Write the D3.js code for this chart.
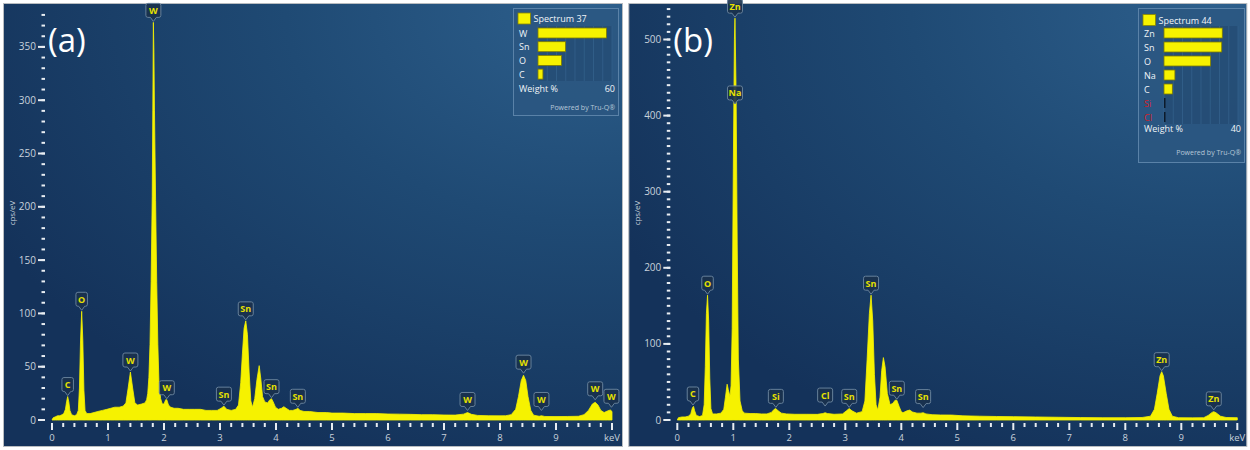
<!DOCTYPE html>
<html><head><meta charset="utf-8">
<script src="https://cdn.jsdelivr.net/npm/d3@7"></script>
<style>
html,body{margin:0;padding:0;background:#fff;}
svg{display:block;font-family:"Open Sans","Noto Sans",sans-serif;}
</style></head>
<body><svg id="c" width="1250" height="450"></svg>
<script>
// ---------- DATA ----------
const panelLetters = ["(a)", "(b)"];
const spectrumTitles = ["Spectrum 37", "Spectrum 44"];
const xTickLabels = ["0","1","2","3","4","5","6","7","8","9","keV"];
const yUnitLabel = "cps/eV";

// spectrum (a): [keV, cps/eV]
const specA = [
[0.00,0],[0.02,2],[0.06,3],[0.10,4],[0.14,4],[0.18,5],[0.21,6],[0.24,10],[0.26,17],[0.28,22],[0.30,17],[0.32,9],[0.35,5],
[0.40,4],[0.44,5],[0.47,9],[0.49,30],[0.51,75],[0.53,102],[0.55,75],[0.57,28],[0.59,9],[0.62,6],[0.68,6],[0.75,7],[0.82,8],
[0.90,9],[0.98,10],[1.05,11],[1.12,12],[1.20,12],[1.27,13],[1.32,16],[1.36,30],[1.40,45],[1.44,30],[1.48,16],[1.53,14],
[1.60,15],[1.66,16],[1.69,19],[1.71,25],[1.73,40],[1.75,71],[1.77,130],[1.79,210],[1.80,290],[1.81,373],[1.82,345],
[1.83,290],[1.85,206],[1.87,129],[1.89,71],[1.91,35],[1.94,20],[1.97,15],[2.00,15],[2.03,19],[2.05,19],[2.08,14],[2.12,12],
[2.18,11],[2.25,11],[2.35,10],[2.45,10],[2.55,10],[2.65,10],[2.75,9],[2.85,9],[2.95,9],[3.02,11],[3.07,13],[3.12,10],
[3.20,9],[3.28,10],[3.33,14],[3.37,35],[3.40,62],[3.43,86],[3.46,93],[3.49,80],[3.52,45],[3.55,18],[3.58,12],[3.62,20],
[3.66,38],[3.70,51],[3.73,38],[3.76,22],[3.80,17],[3.85,16],[3.89,19],[3.92,20],[3.95,17],[3.99,12],[4.04,10],[4.10,11],
[4.14,12.5],[4.18,11],[4.24,9],[4.30,9],[4.36,10],[4.39,11],[4.43,9],[4.50,8],[4.60,8],[4.75,7],[4.90,7],[5.0,6.5],[5.2,6.5],
[5.4,6],[5.6,6],[5.8,6],[6.0,5.6],[6.2,5.5],[6.4,5.3],[6.6,5],[6.8,5],[7.0,4.7],[7.2,4.6],[7.35,5.5],[7.42,7],[7.49,5.3],
[7.6,4.3],[7.8,4],[8.0,3.9],[8.1,4],[8.2,5],[8.28,10],[8.33,22],[8.38,37],[8.42,42],[8.46,37],[8.50,22],[8.55,9],[8.60,4.5],
[8.7,3.5],[8.74,4],[8.8,3.3],[9.0,3.2],[9.2,3.3],[9.4,3.5],[9.5,5],[9.58,9],[9.65,15],[9.70,16.6],[9.75,14],[9.80,9],
[9.86,7],[9.92,8.5],[9.97,9.4],[10.0,8]
];
// spectrum (b)
const specB = [
[0.00,0],[0.02,3],[0.08,4],[0.14,4],[0.20,5],[0.24,8],[0.27,16],[0.29,18],[0.31,12],[0.34,6],[0.40,4.5],[0.45,6],[0.48,20],
[0.50,70],[0.52,140],[0.54,164],[0.56,130],[0.58,55],[0.60,15],[0.63,8],[0.70,8],[0.78,9],[0.83,14],[0.86,30],[0.89,47],
[0.91,40],[0.94,31],[0.96,45],[0.98,120],[1.00,330],[1.02,500],[1.03,528],[1.05,430],[1.07,230],[1.09,80],[1.12,25],
[1.16,12],[1.2,9],[1.3,8.5],[1.4,8.5],[1.5,8],[1.6,8],[1.68,10],[1.73,14],[1.76,15],[1.80,12],[1.86,9],[1.95,8],[2.1,7.5],
[2.3,7.5],[2.5,7.4],[2.6,8.5],[2.64,9.6],[2.68,8.5],[2.8,7.5],[2.95,8],[3.02,12],[3.07,15],[3.12,12],[3.20,9],[3.30,11],
[3.35,25],[3.39,80],[3.43,140],[3.46,164],[3.49,130],[3.52,60],[3.55,20],[3.58,13],[3.62,30],[3.65,65],[3.68,82],[3.71,70],
[3.75,35],[3.80,20],[3.85,22],[3.89,26],[3.92,26],[3.96,18],[4.00,11],[4.03,9.6],[4.10,12],[4.15,13],[4.20,10.5],[4.28,9],
[4.35,9],[4.39,9.6],[4.44,8],[4.55,7],[4.7,6.6],[4.9,6.5],[5.1,5.5],[5.4,5],[5.7,4.6],[6.0,4.4],[6.4,4],[6.8,3.6],[7.2,3.2],
[7.6,3],[8.0,3],[8.3,3.3],[8.45,5],[8.52,14],[8.57,35],[8.62,58],[8.65,63.5],[8.68,58],[8.73,35],[8.78,14],[8.84,5],[8.95,3],
[9.2,2.8],[9.4,3],[9.48,6],[9.55,10],[9.58,11],[9.62,9.5],[9.70,5],[9.80,3.3],[10.0,3]
];
// peak labels: [element, keV, cps/eV at pointer tip]
const peaksA = [["C",0.28,22],["O",0.53,102],["W",1.40,45],["W",1.81,373],["W",2.05,19],["Sn",3.07,13],["Sn",3.46,93],
["Sn",3.92,20],["Sn",4.39,11],["W",7.42,8],["W",8.42,43],["W",8.74,8],["W",9.70,18],["W",9.99,11]];
const peaksB = [["C",0.28,18.4],["O",0.54,164],["Zn",1.03,528],["Na",1.03,414],["Si",1.76,15.3],["Cl",2.64,17],
["Sn",3.07,15.3],["Sn",3.46,164],["Sn",3.92,26],["Sn",4.39,15],["Zn",8.65,63.5],["Zn",9.58,12]];
// y ticks
const yMaxA = 380, yMajorA = [0,50,100,150,200,250,300,350];
const yMaxB = 540, yMajorB = [0,100,200,300,400,500];
// legend (weight %)
const legElemA = ["W","Sn","O","C"];
const legWtA = [55.5,22.3,19,4];
const legElemB = ["Zn","Sn","O","Na","C","Si","Cl"];
const legWtB = [31.5,31.2,25.2,5.9,4.5,0.2,0.2];
const legMaxA = 60, legMaxB = 40;
const legRedB = ["Si","Cl"];

// ---------- DRAW ----------
const svg = d3.select("#c");
const defs = svg.append("defs");
const rg = defs.append("radialGradient").attr("id","bg").attr("cx","95%").attr("cy","0%").attr("r","110%")
  .attr("gradientUnits","objectBoundingBox");
rg.append("stop").attr("offset","0%").attr("stop-color","#2d5f8c");
rg.append("stop").attr("offset","45%").attr("stop-color","#1f4a74");
rg.append("stop").attr("offset","100%").attr("stop-color","#14325a");

const YEL = "#f6f200";

function panel(cfg){
  const g = svg.append("g");
  const x = d3.scaleLinear().domain([0,10]).range([cfg.x0, cfg.x0+560]);
  const y = d3.scaleLinear().domain([0,cfg.yMax]).range([420, 420-cfg.yMax*cfg.ppu]);
  // frame
  g.append("rect").attr("x",cfg.x0-49+0.5).attr("y",3.5).attr("width",cfg.fw).attr("height",443)
    .attr("fill","url(#bg)").attr("stroke","#b8bcc0").attr("stroke-width",1);
  // letter
  g.append("text").attr("x",cfg.x0-4).attr("y",52).attr("fill","#fff").attr("font-size",33)
    .attr("font-family","'Open Sans',sans-serif").text(cfg.letter);
  // y ticks
  const minors = d3.range(0,cfg.yMax+1,10);
  g.selectAll(".ym").data(minors).join("line").attr("x1",cfg.x0-7).attr("x2",cfg.x0-10.5)
    .attr("y1",d=>y(d)).attr("y2",d=>y(d)).attr("stroke","#e8edf2").attr("stroke-width",2);
  g.selectAll(".yM").data(cfg.yMajor).join("line").attr("x1",cfg.x0-7).attr("x2",cfg.x0-14)
    .attr("y1",d=>y(d)).attr("y2",d=>y(d)).attr("stroke","#e8edf2").attr("stroke-width",2);
  g.selectAll(".yl").data(cfg.yMajor).join("text").attr("x",cfg.x0-16).attr("y",d=>y(d)+3.5)
    .attr("text-anchor","end").attr("font-size",10).attr("fill","#c8d2dc").text(d=>d);
  g.append("text").attr("transform",`translate(${cfg.x0-37},213) rotate(-90)`).attr("text-anchor","middle")
    .attr("font-size",8).attr("fill","#c8d2dc").text(yUnitLabel);
  // x ticks
  const xmin = d3.range(0,51).map(i=>i/5);
  g.selectAll(".xm").data(xmin).join("line").attr("x1",d=>x(d)).attr("x2",d=>x(d))
    .attr("y1",423).attr("y2",d=>(Math.abs(d-Math.round(d))<1e-6)?430:427)
    .attr("stroke","#e8edf2").attr("stroke-width",2);
  g.selectAll(".xl").data(xTickLabels).join("text").attr("x",(d,i)=>x(i)).attr("y",441)
    .attr("text-anchor","middle").attr("font-size",9.5).attr("fill","#c8d2dc").text(d=>d);
  // spectrum
  const area = d3.area().x(d=>x(d[0])).y0(y(0)).y1(d=>y(d[1]));
  g.append("path").datum(cfg.spec).attr("d",area).attr("fill",YEL).attr("stroke",YEL).attr("stroke-width",0.8);
  // peak labels
  const pl = g.selectAll(".pk").data(cfg.peaks).join("g")
    .attr("transform",d=>`translate(${x(d[1])},${y(d[2])-1})`);
  pl.each(function(d){
    const s = d3.select(this);
    const w = d[0].length>1 ? 15 : (d[0]==="W"?15:11.5);
    const h = 14, p = 4, r = 2;
    const L=-w/2, R=w/2, T=-(h+p), B=-p;
    const path = `M${L+r},${T} H${R-r} Q${R},${T} ${R},${T+r} V${B-r} Q${R},${B} ${R-r},${B} H3 L0,0 L-3,${B} H${L+r} Q${L},${B} ${L},${B-r} V${T+r} Q${L},${T} ${L+r},${T} Z`;
    s.append("path").attr("d",path).attr("fill","#1a314c").attr("fill-opacity",0.9)
      .attr("stroke","#66809a").attr("stroke-width",1);
    s.append("text").attr("x",0).attr("y",B-3.5).attr("text-anchor","middle")
      .attr("font-size",9).attr("font-weight","bold").attr("fill","#e6e000").text(d[0]);
  });
  // legend
  const L = cfg.leg;
  const lg = g.append("g");
  lg.append("rect").attr("x",L.x+0.5).attr("y",8.5).attr("width",L.w).attr("height",L.h)
    .attr("fill","#2b5781").attr("fill-opacity",0.85).attr("stroke","#5a82a8").attr("stroke-width",1);
  lg.append("rect").attr("x",L.x+5).attr("y",L.swY).attr("width",12.5).attr("height",11)
    .attr("fill",YEL).attr("stroke","#8a8600").attr("stroke-width",0.8);
  lg.append("text").attr("x",L.x+20.5).attr("y",L.swY+9).attr("font-size",9).attr("fill","#f0f4f8").text(cfg.title);
  const bx = d3.scaleLinear().domain([0,L.max]).range([L.bx0, L.bx1]);
  const rowY = i => L.row0 + i*L.step;
  // track
  lg.append("rect").attr("x",L.bx0).attr("y",rowY(0)-L.step/2).attr("width",L.bx1-L.bx0)
    .attr("height",L.step*L.elems.length).attr("fill","#234a72").attr("fill-opacity",0.7);
  lg.selectAll(".gl").data(d3.range(0,L.max+0.001,L.max/8)).join("line")
    .attr("x1",d=>bx(d)).attr("x2",d=>bx(d)).attr("y1",rowY(0)-L.step/2).attr("y2",rowY(L.elems.length-1)+L.step/2)
    .attr("stroke","#33618c").attr("stroke-width",0.8);
  lg.selectAll(".lt").data(L.elems).join("text").attr("x",L.x+6).attr("y",(d,i)=>rowY(i)+3.5)
    .attr("font-size",9).attr("fill",d=>L.red.includes(d)?"#d0202a":"#f0f4f8").text(d=>d);
  lg.selectAll(".lb").data(L.vals).join("rect").attr("x",L.bx0).attr("y",(d,i)=>rowY(i)-5)
    .attr("width",d=>Math.max(1.5,bx(d)-L.bx0)).attr("height",10)
    .attr("fill",d=>d<1?"#0c1a2a":YEL).attr("stroke",d=>d<1?"none":"#7d7a00").attr("stroke-width",0.8);
  lg.append("text").attr("x",L.x+6).attr("y",L.wtY+3).attr("font-size",9).attr("fill","#f0f4f8").text("Weight %");
  lg.append("text").attr("x",L.x+L.w-3).attr("y",L.wtY+3).attr("text-anchor","end").attr("font-size",9)
    .attr("fill","#f0f4f8").text(L.max);
  lg.append("text").attr("x",L.x+L.w-3).attr("y",L.pwY+3).attr("text-anchor","end").attr("font-size",7)
    .attr("fill","#b7c7d8").text("Powered by Tru-Q®");
}

panel({x0:52, fw:619, yMax:yMaxA, ppu:1.066, yMajor:yMajorA, letter:panelLetters[0], spec:specA, peaks:peaksA,
  title:spectrumTitles[0],
  leg:{x:513, w:105, h:107, swY:13, row0:33, step:13.7, bx0:538, bx1:612, max:legMaxA, elems:legElemA, vals:legWtA,
       red:[], wtY:89, pwY:107}});
panel({x0:677.3, fw:618, yMax:yMaxB, ppu:0.761, yMajor:yMajorB, letter:panelLetters[1], spec:specB, peaks:peaksB,
  title:spectrumTitles[1],
  leg:{x:1138, w:106, h:154, swY:14.5, row0:33, step:14, bx0:1164, bx1:1238, max:legMaxB, elems:legElemB, vals:legWtB,
       red:legRedB, wtY:129, pwY:152}});
</script></body></html>
